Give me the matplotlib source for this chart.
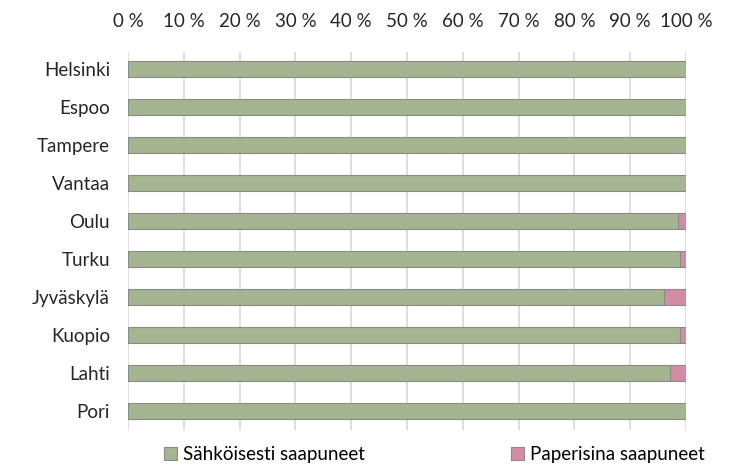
import matplotlib
import numpy as np

matplotlib.use("Agg")
import matplotlib.pyplot as plt  # noqa: E402

cities = ["Helsinki", "Espoo", "Tampere", "Vantaa", "Oulu",
          "Turku", "Jyväskylä", "Kuopio", "Lahti", "Pori"]
paper_pct = [0.0, 0.0, 0.0, 0.0, 1.5, 1.1, 3.9, 1.1, 2.9, 0.0]
electronic_pct = [100.0 - p for p in paper_pct]
ticks = list(range(0, 101, 10))
tick_labels = [f"{t} %" for t in ticks]

plt.rcParams["font.family"] = ["Lato", "DejaVu Sans"]

fig = plt.figure(figsize=(7.32, 4.66), dpi=100)
ax = fig.add_axes([0.175, 0.077, 0.762, 0.811])

y = np.arange(len(cities))
h = 0.42
ax.barh(y, electronic_pct, height=h, color="#a5b491", edgecolor="#8a8a8a",
        linewidth=0.8, label="Sähköisesti saapuneet", zorder=3)
ax.barh(y, paper_pct, left=electronic_pct, height=h, color="#d48ca5",
        edgecolor="#8a8a8a", linewidth=0.8, label="Paperisina saapuneet", zorder=3)

ax.set_xlim(0, 100)
ax.set_ylim(9.5, -0.45)
ax.set_yticks(y)
ax.set_yticklabels(cities, fontsize=13.5, color="#262626")
ax.xaxis.tick_top()
ax.set_xticks(ticks)
ax.set_xticklabels(tick_labels, fontsize=13.5, color="#262626")
ax.tick_params(length=0)
ax.tick_params(axis="y", pad=13)
ax.tick_params(axis="x", pad=16)
ax.grid(axis="x", color="#d9d9d9", linewidth=1.2, zorder=0)
for s in ax.spines.values():
    s.set_visible(False)

fig.legend(loc="center", bbox_to_anchor=(0.593, 0.025), ncol=2, frameon=False,
           fontsize=13.5, handlelength=0.7, handleheight=0.7, handletextpad=0.3,
           columnspacing=7.8)

fig.savefig("out.png", dpi=100)
